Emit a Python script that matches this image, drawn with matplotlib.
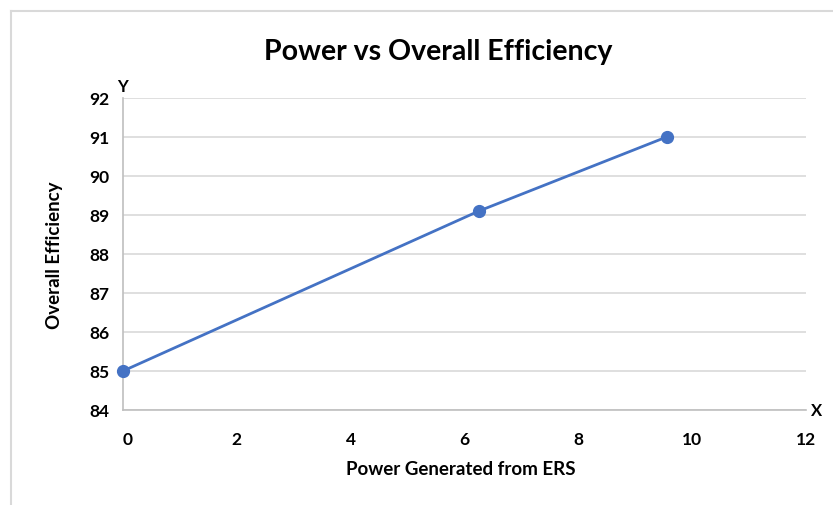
import matplotlib.pyplot as plt
from matplotlib.lines import Line2D

# data
power = [0, 6.25, 9.55]
efficiency = [85.0, 89.1, 91.0]
x_ticks = [0, 2, 4, 6, 8, 10, 12]
y_ticks = [84, 85, 86, 87, 88, 89, 90, 91, 92]

BLUE = "#4472C4"
GRID = "#d9d9d9"
TEXT = "#000000"

plt.rcParams["font.family"] = ["Lato", "DejaVu Sans"]

fig = plt.figure(figsize=(8.33, 5.06), dpi=100)

# chart frame (light border on top and left)
fig.add_artist(Line2D([11 / 833, 11 / 833], [0, 1 - 12 / 506],
                      transform=fig.transFigure, color=GRID, lw=1.5))
fig.add_artist(Line2D([11 / 833, 1], [1 - 12 / 506, 1 - 12 / 506],
                      transform=fig.transFigure, color=GRID, lw=1.5))

ax = fig.add_axes([123 / 833, 1 - 411 / 506, 683 / 833, 312 / 506])

ax.plot(power, efficiency, color=BLUE, lw=2.0, marker="o", ms=8.5,
        clip_on=False, zorder=3)

ax.set_xlim(0, 12)
ax.set_ylim(84, 92)
ax.set_yticks(y_ticks)
ax.set_xticks(x_ticks)
ax.set_xticklabels([])
ax.tick_params(axis="both", length=0, labelsize=12.5, colors=TEXT)
ax.tick_params(axis="y", pad=10)
for lbl in ax.get_yticklabels():
    lbl.set_fontweight("bold")

# x tick labels sit a bit below the axis, 0 nudged right like the original
for xv in x_ticks:
    dx = 0.08 if xv == 0 else 0.0
    ax.text(xv + dx, 83.25, str(xv), ha="center", va="center",
            fontsize=12.5, fontweight="bold", color=TEXT)

ax.grid(axis="y", color=GRID, lw=1.2)
ax.set_axisbelow(True)
for side in ["top", "right"]:
    ax.spines[side].set_visible(False)
for side in ["left", "bottom"]:
    ax.spines[side].set_color("#bfbfbf")
    ax.spines[side].set_linewidth(1.2)

ax.text(12.08, 84, "X", ha="left", va="center", fontsize=12,
        fontweight="bold", color=TEXT)
ax.text(0, 92.1, "Y", ha="center", va="bottom", fontsize=12,
        fontweight="bold", color=TEXT)

fig.text(438 / 833, 1 - 52 / 506, "Power vs Overall Efficiency",
         ha="center", va="center", fontsize=20.5, fontweight="bold", color=TEXT)
fig.text(461 / 833, 1 - 470 / 506, "Power Generated from ERS",
         ha="center", va="center", fontsize=13.5, fontweight="bold", color=TEXT)
fig.text(55 / 833, 1 - 255 / 506, "Overall Efficiency", rotation=90,
         ha="center", va="center", fontsize=13.5, fontweight="bold", color=TEXT)

fig.savefig("out.png", dpi=100, facecolor="white")
